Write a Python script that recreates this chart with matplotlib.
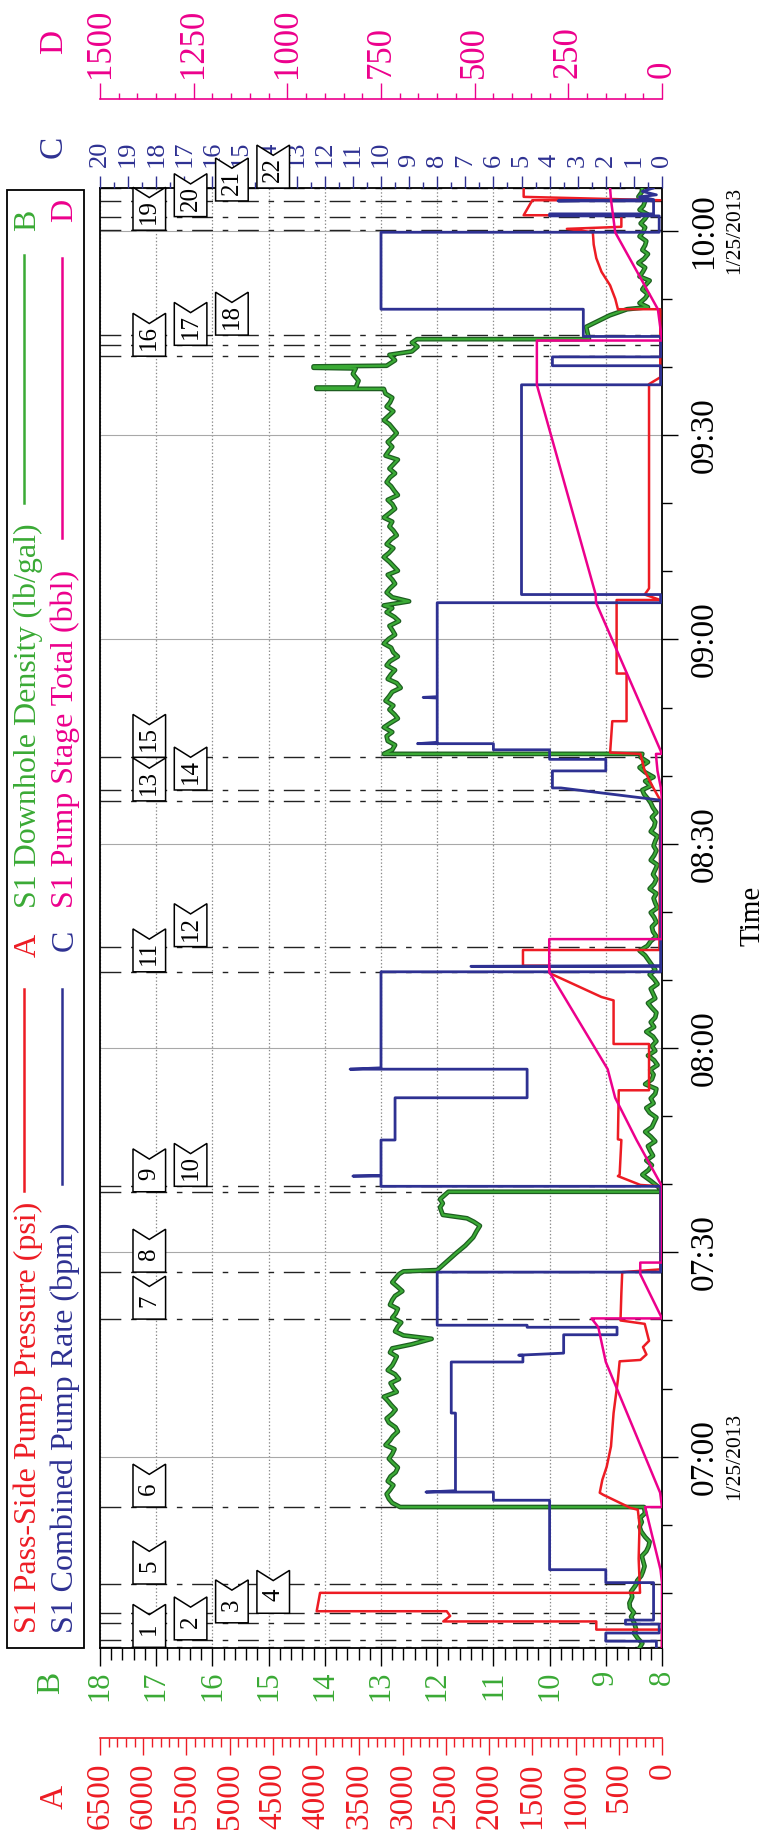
import numpy as np
import pandas as pd
import matplotlib
matplotlib.use("Agg")
import matplotlib.pyplot as plt
import matplotlib.dates as mdates
import matplotlib.ticker as mticker
import matplotlib.transforms as mtransforms
from matplotlib.patches import Polygon, Rectangle
from matplotlib.lines import Line2D

plt.rcParams['font.family'] = ['Liberation Serif', 'DejaVu Serif']
plt.rcParams['lines.scale_dashes'] = False

RED = '#ed1c24'
GREEN = '#3aaa35'
DKGREEN = '#1d5e20'
BLUE = '#2e3192'
PINK = '#ec008c'

T0 = pd.Timestamp('2013-01-25 07:00')

############################################################
# data: (minutes after 07:00, value)
############################################################

# A - S1 Pass-Side Pump Pressure (psi)
pressure = [(-28.1, 0), (-25.4, 0), (-25.4, 760), (-24.2, 760), (-24.2, 2530),
            (-23.4, 2450), (-22.7, 2490), (-22.7, 3994), (-20.0, 3955), (-20.0, 254),
            (-15.0, 270), (-10.0, 260), (-7.8, 280), (-7.5, 370), (-5.6, 680),
            (-5.3, 720), (-3.4, 690), (-1.5, 640), (1.5, 590), (6.4, 560),
            (11.3, 510), (14.0, 490), (14.2, 250), (15.0, 180), (16.1, 220),
            (17.0, 150), (19.5, 200), (20.0, 480), (24.0, 470), (27.1, 460),
            (27.5, 20), (39.7, 20), (39.9, 250), (41.2, 510), (41.4, 490),
            (46.5, 470), (46.6, 510), (53.8, 500), (53.8, 150), (60.6, 150),
            (60.6, 560), (67.0, 560), (67.5, 700), (71.0, 1300), (72.1, 1300),
            (72.1, 1608), (74.4, 1608), (74.4, 30), (96.4, 20), (98.2, 100),
            (100.7, 200), (103.2, 250), (103.4, 600), (108.0, 575), (108.0, 410),
            (115.0, 410), (115.0, 525), (125.8, 525), (125.8, 20), (126.6, 200),
            (127.5, 150), (157.5, 150), (158.5, 20), (168.5, 20), (168.5, 510),
            (170.0, 540), (172.0, 600), (174.0, 700), (176.0, 760), (178.0, 790),
            (179.8, 800), (180.3, 1100), (180.6, 470), (182.3, 470), (182.3, 1600),
            (184.5, 1500), (184.5, 20), (185.0, 1600), (186.6, 1600)]

# B - S1 Downhole Density (lb/gal)
density = [(-28.1, 8.4), (-27.4, 8.35), (-26.8, 8.42), (-25.9, 8.5), (-25.4, 8.46),
           (-24.5, 8.49), (-23.5, 8.55), (-22.9, 8.5), (-22.2, 8.57), (-21.5, 8.58),
           (-20.6, 8.53), (-19.8, 8.55), (-18.9, 8.47), (-18.2, 8.44), (-17.5, 8.37),
           (-16.9, 8.34), (-16.1, 8.31), (-15.5, 8.33), (-14.6, 8.36), (-13.9, 8.28),
           (-13.2, 8.24), (-12.5, 8.22), (-11.8, 8.3), (-11.0, 8.37), (-10.3, 8.4),
           (-9.6, 8.36), (-9.0, 8.39), (-8.3, 8.3), (-7.4, 8.32), (-7.4, 12.66),
           (-6.8, 12.8), (-6.2, 12.86), (-5.5, 12.9), (-4.9, 12.84), (-4.2, 12.78),
           (-3.6, 12.88), (-2.9, 12.83), (-2.3, 12.74), (-1.6, 12.7), (-0.9, 12.79),
           (-0.3, 12.86), (0.4, 12.8), (1.1, 12.76), (1.7, 12.92), (2.4, 12.84),
           (3.0, 12.79), (3.7, 12.7), (4.3, 12.74), (5.0, 12.86), (5.6, 12.9),
           (6.3, 12.8), (6.9, 12.74), (7.6, 12.82), (8.2, 12.88), (8.8, 12.95),
           (9.5, 12.72), (10.1, 12.78), (10.8, 12.83), (11.4, 12.68), (12.1, 12.75),
           (12.7, 12.88), (13.4, 12.8), (14.0, 12.76), (14.7, 12.72), (15.3, 12.84),
           (15.9, 12.8), (16.5, 12.45), (17.3, 12.1), (17.8, 12.6), (18.4, 12.75),
           (19.1, 12.7), (19.7, 12.64), (20.4, 12.8), (21.0, 12.74), (21.7, 12.7),
           (22.3, 12.84), (23.0, 12.8), (23.6, 12.75), (24.3, 12.62), (24.9, 12.7),
           (25.6, 12.8), (26.2, 12.74), (26.8, 12.68), (27.2, 12.6), (27.4, 12.0),
           (28.5, 11.85), (29.9, 11.66), (31.0, 11.5), (32.2, 11.36), (33.1, 11.3),
           (33.9, 11.24), (34.5, 11.35), (35.0, 11.47), (35.5, 11.9), (36.6, 11.95),
           (37.2, 11.9), (37.8, 11.95), (38.9, 11.8), (38.9, 8.0), (39.5, 8.05),
           (40.5, 8.2), (41.4, 8.35), (42.1, 8.24), (42.8, 8.18), (43.5, 8.28),
           (44.2, 8.16), (44.9, 8.21), (45.6, 8.25), (46.3, 8.12), (47.0, 8.2),
           (47.7, 8.3), (48.4, 8.18), (49.1, 8.14), (49.8, 8.1), (50.5, 8.22),
           (51.2, 8.28), (51.9, 8.15), (52.6, 8.2), (53.3, 8.12), (54.0, 8.1),
           (54.7, 8.3), (55.4, 8.18), (56.1, 8.15), (56.8, 8.21), (57.5, 8.08),
           (58.2, 8.14), (58.9, 8.25), (59.6, 8.12), (60.3, 8.18), (61.0, 8.1),
           (61.7, 8.16), (62.4, 8.28), (63.1, 8.14), (63.8, 8.2), (64.5, 8.12),
           (65.2, 8.1), (65.9, 8.18), (66.6, 8.25), (67.3, 8.12), (68.0, 8.16),
           (68.7, 8.2), (69.4, 8.08), (70.1, 8.14), (70.8, 8.22), (71.5, 8.12),
           (72.2, 8.18), (72.9, 8.24), (73.6, 8.3), (74.3, 8.4), (75.0, 8.26),
           (75.7, 8.2), (76.4, 8.1), (77.1, 8.16), (77.8, 8.18), (78.5, 8.1),
           (79.2, 8.14), (79.9, 8.2), (80.6, 8.08), (81.3, 8.12), (82.0, 8.15),
           (82.7, 8.1), (83.4, 8.22), (84.1, 8.14), (84.8, 8.1), (85.5, 8.16),
           (86.2, 8.12), (86.9, 8.08), (87.6, 8.2), (88.3, 8.14), (89.0, 8.1),
           (89.7, 8.15), (90.4, 8.12), (91.1, 8.08), (91.8, 8.2), (92.5, 8.14),
           (93.2, 8.12), (93.9, 8.18), (94.6, 8.1), (95.3, 8.16), (96.0, 8.2),
           (96.6, 8.25), (97.3, 8.32), (97.9, 8.35), (98.5, 8.2), (99.2, 8.3),
           (99.8, 8.15), (100.5, 8.3), (101.2, 8.4), (102.0, 8.25), (102.7, 8.38),
           (103.2, 8.35), (103.2, 12.95), (103.8, 12.8), (104.5, 12.75), (105.1, 12.88),
           (105.8, 12.9), (106.4, 12.8), (107.1, 12.95), (107.7, 12.84), (108.4, 12.7),
           (109.0, 12.76), (109.7, 12.85), (110.3, 12.78), (111.0, 12.92), (111.6, 12.86),
           (112.3, 12.8), (112.9, 12.65), (113.6, 12.72), (114.2, 12.88), (114.9, 12.82),
           (115.5, 12.75), (116.2, 12.9), (116.8, 12.84), (117.5, 12.7), (118.1, 12.78),
           (118.8, 12.82), (119.4, 12.95), (120.1, 12.86), (120.7, 12.75), (121.4, 12.8),
           (122.0, 12.85), (122.7, 12.68), (123.3, 12.76), (124.0, 12.9), (124.6, 12.8),
           (125.0, 12.95), (125.6, 12.5), (126.2, 12.8), (126.9, 12.9), (127.5, 12.84),
           (128.2, 12.75), (128.8, 12.8), (129.5, 12.88), (130.1, 12.7), (130.8, 12.78),
           (131.4, 12.85), (132.1, 12.95), (132.7, 12.86), (133.4, 12.78), (134.0, 12.9),
           (134.7, 12.82), (135.3, 12.72), (136.0, 12.78), (136.6, 12.85), (137.3, 12.8),
           (137.9, 12.95), (138.6, 12.84), (139.2, 12.75), (139.9, 12.8), (140.5, 12.88),
           (141.2, 12.7), (141.8, 12.76), (142.5, 12.82), (143.1, 12.9), (143.8, 12.84),
           (144.4, 12.75), (145.1, 12.85), (145.7, 12.78), (146.4, 12.7), (147.0, 12.92),
           (147.7, 12.86), (148.3, 12.8), (149.0, 12.88), (149.6, 12.8), (150.3, 12.72),
           (150.9, 12.78), (151.6, 12.85), (152.2, 12.95), (152.9, 12.86), (153.5, 12.78),
           (154.2, 12.9), (154.8, 12.84), (155.5, 12.8), (156.1, 12.92), (156.8, 12.95),
           (156.8, 14.15), (157.0, 14.15), (157.0, 13.45), (158.0, 13.4), (159.0, 13.5),
           (159.8, 13.45), (159.9, 14.2), (160.1, 14.2), (160.2, 12.9), (161.0, 12.75),
           (161.8, 12.85), (162.3, 12.45), (163.0, 12.35), (163.6, 12.45), (164.1, 12.36),
           (164.1, 9.3), (165.9, 9.35), (167.6, 8.93), (168.5, 8.62), (168.8, 8.25),
           (169.4, 8.4), (170.1, 8.3), (170.7, 8.25), (171.4, 8.35), (172.0, 8.3),
           (172.7, 8.22), (173.3, 8.4), (174.0, 8.34), (174.6, 8.3), (175.3, 8.42),
           (175.9, 8.32), (176.6, 8.25), (177.2, 8.35), (177.9, 8.3), (178.5, 8.28),
           (179.2, 8.4), (179.8, 8.34), (180.5, 8.3), (181.1, 8.38), (181.8, 8.3),
           (182.4, 8.25), (183.1, 8.4), (183.7, 8.33), (184.4, 8.3), (185.0, 8.42),
           (185.7, 8.36), (186.5, 8.35)]

# C - S1 Combined Pump Rate (bpm)
rate = [(-28.1, 0.2), (-27.1, 0.2), (-27.1, 2.0), (-25.9, 2.0), (-25.9, 0.1),
        (-24.6, 0.1), (-24.6, 1.3), (-24.0, 1.3), (-24.0, 0.3), (-18.5, 0.3),
        (-18.5, 2.0), (-16.6, 2.0), (-16.6, 4.0), (-6.4, 4.0), (-6.4, 6.0),
        (-5.2, 6.0), (-5.2, 8.4), (-5.0, 7.35), (6.4, 7.35), (6.4, 7.5),
        (13.9, 7.5), (13.9, 4.95), (14.9, 4.95), (14.9, 5.1), (15.2, 3.5),
        (17.9, 3.5), (17.9, 1.6), (19.0, 1.6), (19.0, 4.8), (19.3, 4.8),
        (19.3, 8.0), (27.1, 8.0), (27.1, 0.05), (39.7, 0.05), (39.7, 10.0),
        (41.2, 10.0), (41.2, 11.0), (41.3, 10.0), (46.5, 10.0), (46.5, 9.5),
        (52.7, 9.5), (52.7, 4.8), (56.9, 4.8), (56.9, 11.1), (57.1, 10.0),
        (71.2, 10.0), (71.2, 0.05), (72.0, 0.05), (72.0, 6.8), (72.1, 0.05),
        (96.4, 0.05), (98.2, 3.6), (98.2, 3.9), (100.7, 3.9), (100.7, 2.0),
        (102.4, 2.0), (102.4, 4.0), (103.8, 4.0), (103.8, 6.0), (104.7, 6.0),
        (104.7, 8.7), (104.9, 8.0), (111.4, 8.0), (111.5, 8.5), (111.6, 8.0),
        (125.4, 8.0), (125.4, 0.05), (126.6, 0.05), (126.6, 5.0), (157.4, 5.0),
        (157.4, 0.05), (160.2, 0.05), (160.2, 3.9), (161.5, 3.9), (161.5, 0.05),
        (164.5, 0.05), (164.5, 2.8), (168.5, 2.8), (168.5, 10.0), (179.8, 10.0),
        (179.8, 0.1), (182.2, 0.1), (182.2, 4.0), (182.5, 4.0), (182.5, 0.3),
        (184.4, 0.3), (184.4, 3.7), (184.6, 0.3), (185.0, 0.8), (185.3, 0.2),
        (185.8, 0.7), (186.3, 0.3), (186.6, 0.4)]

# D - S1 Pump Stage Total (bbl)
stage_total = [(-28.1, 0), (-18.5, 0), (-16.6, 4), (-7.4, 45), (-7.4, 0),
               (-5.3, 5), (13.9, 150), (19.0, 170), (20.3, 188), (20.3, 0),
               (26.8, 58), (28.5, 58), (28.5, 0), (39.7, 0), (46.5, 68),
               (52.7, 125), (56.9, 145), (71.2, 301), (76.0, 301), (76.0, 0),
               (96.4, 0), (98.2, 3), (100.7, 12), (102.4, 15), (103.2, 16),
               (103.2, 0), (125.4, 176), (126.6, 177), (157.4, 334), (163.9, 334),
               (163.9, 0), (168.5, 11), (179.8, 125), (182.0, 130), (184.5, 136),
               (186.6, 139)]

# event markers 1..22 (minutes after 07:00) and the flag row they sit in
event_min = [-28.0, -26.9, -24.4, -23.0, -18.7, -7.4, 20.2, 27.1, 38.9, 39.7, 71.2,
             74.9, 96.3, 97.9, 102.7, 161.6, 163.2, 164.7, 180.1, 182.1, 184.4, 186.3]
event_row = [1, 2, 3, 4, 1, 1, 1, 1, 1, 2, 1, 2, 1, 2, 1, 1, 2, 3, 1, 2, 3, 4]

t_start, t_end = -28.1, 186.3


def tnum(m):
    return mdates.date2num(T0.to_pydatetime()) + np.asarray(m, float) / 1440.0


def split(pts):
    a = np.array(pts, float)
    return tnum(a[:, 0]), a[:, 1]


W, H = 769, 1839
fig = plt.figure(figsize=(W / 100, H / 100), dpi=100)


def fx(px):
    return px / W


def fy(py):
    return 1 - py / H


L, R, TOP, BOT = 100, 662, 188, 1648
ax = fig.add_axes([fx(L), fy(BOT), (R - L) / W, (BOT - TOP) / H])
axA = ax.twiny()
axC = ax.twiny()
axD = ax.twiny()

ax.set_xlim(18, 8)
axA.set_xlim(6500, 0)
axC.set_xlim(20, 0)
axD.set_xlim(1500, 0)
ax.set_ylim(tnum(t_start), tnum(t_end))

for s in ax.spines.values():
    s.set_linewidth(1.3)

# B axis (bottom)
ax.xaxis.set_major_locator(mticker.MultipleLocator(1))
ax.xaxis.set_minor_locator(mticker.MultipleLocator(0.2))
ax.xaxis.set_major_formatter(mticker.FormatStrFormatter('%d'))
ax.tick_params(axis='x', which='major', direction='out', length=13, width=1,
               labelcolor=GREEN, labelsize=22, labelrotation=90, pad=3)
ax.tick_params(axis='x', which='minor', direction='out', length=8.5, width=1)

# time axis (right)
ax.yaxis.tick_right()
ax.yaxis.set_major_locator(mdates.MinuteLocator(byminute=[0, 30]))
ax.yaxis.set_minor_locator(mdates.MinuteLocator(byminute=range(0, 60, 10)))
ax.yaxis.set_major_formatter(mdates.DateFormatter('%H:%M'))
ax.tick_params(axis='y', which='major', direction='out', length=11.5, width=1,
               labelsize=24, labelrotation=90, pad=8)
ax.tick_params(axis='y', which='minor', direction='out', length=7, width=1)
plt.setp(ax.get_yticklabels(), va='center')

ax.grid(True, axis='x', which='major', color='#8a8a8a', lw=0.9, ls=(0, (1, 1.5)))
ax.grid(True, axis='y', which='major', color='#a8a8a8', lw=0.8, ls='-')
ax.set_axisbelow(True)

# A axis (bottom, offset)
axA.xaxis.set_ticks_position('bottom')
axA.xaxis.set_label_position('bottom')
for k in ['top', 'left', 'right']:
    axA.spines[k].set_visible(False)
axA.spines['bottom'].set_position(('outward', 64.8))
axA.spines['bottom'].set_color(RED)
axA.spines['bottom'].set_linewidth(1.2)
axA.xaxis.set_major_locator(mticker.MultipleLocator(500))
axA.xaxis.set_minor_locator(mticker.MultipleLocator(100))
axA.xaxis.set_major_formatter(mticker.FormatStrFormatter('%d'))
axA.tick_params(axis='x', which='major', direction='out', length=12, width=1,
                color=RED, labelcolor=RED, labelsize=24, labelrotation=90, pad=5.5)
axA.tick_params(axis='x', which='minor', direction='out', length=6.5, width=1, color=RED)

# C axis (top, on the frame)
for s in axC.spines.values():
    s.set_visible(False)
axC.xaxis.set_major_locator(mticker.MultipleLocator(1))
axC.xaxis.set_minor_locator(mticker.MultipleLocator(0.5))
axC.xaxis.set_major_formatter(mticker.FormatStrFormatter('%d'))
axC.tick_params(axis='x', which='major', direction='out', length=8.3, width=1,
                color=BLUE, labelcolor=BLUE, labelsize=19, labelrotation=90, pad=7)
axC.tick_params(axis='x', which='minor', direction='out', length=4.5, width=1, color=BLUE)

# D axis (top, offset)
for k in ['bottom', 'left', 'right']:
    axD.spines[k].set_visible(False)
axD.spines['top'].set_position(('outward', 64))
axD.spines['top'].set_color(PINK)
axD.spines['top'].set_linewidth(1.2)
axD.xaxis.set_major_locator(mticker.MultipleLocator(250))
axD.xaxis.set_minor_locator(mticker.MultipleLocator(50))
axD.xaxis.set_major_formatter(mticker.FormatStrFormatter('%d'))
axD.tick_params(axis='x', which='major', direction='out', length=11.5, width=1,
                color=PINK, labelcolor=PINK, labelsize=25, labelrotation=90, pad=4)
axD.tick_params(axis='x', which='minor', direction='out', length=4.3, width=1, color=PINK)

# event lines
for t in event_min:
    ax.axhline(tnum(t), color='#222222', lw=1.0, ls=(0, (15, 7, 4, 7)), zorder=1)

# series
tp, vp = split(pressure)
axA.plot(vp, tp, color=RED, lw=1.8, zorder=3)
td, vd = split(density)
ax.plot(vd, td, color=DKGREEN, lw=3.4, zorder=3, solid_joinstyle='round')
ax.plot(vd, td, color=GREEN, lw=1.6, zorder=4, solid_joinstyle='round')
tr, vr = split(rate)
axC.plot(vr, tr, color=BLUE, lw=2.0, zorder=3)
ts, vs = split(stage_total)
axD.plot(vs, ts, color=PINK, lw=1.8, zorder=3)

# event flags
trans = mtransforms.blended_transform_factory(ax.transAxes, ax.transData)
box_h, notch = 6.3, 1.5
for i, (t, r) in enumerate(zip(event_min, event_row)):
    x0 = 0.0587 + 0.0735 * (r - 1)
    x1 = x0 + 0.058
    xm = (x0 + x1) / 2
    poly = [(x0, tnum(t)), (x1, tnum(t)), (x1, tnum(t + box_h)),
            (xm, tnum(t + box_h - notch)), (x0, tnum(t + box_h))]
    axD.add_patch(Polygon(poly, closed=True, fc='white', ec='black', lw=1.1,
                          transform=trans, clip_on=False, zorder=10))
    axD.text(xm, tnum(t + 2.7), str(i + 1), transform=trans, rotation=90,
             ha='center', va='center', fontsize=18, zorder=11, clip_on=False)

# dates under 07:00 and 10:00
dtrans = mtransforms.blended_transform_factory(fig.transFigure, ax.transData)
for m in [0, 180]:
    ax.text(fx(735), tnum(m), '1/25/2013', transform=dtrans, rotation=90,
            ha='center', va='center', fontsize=15.5, clip_on=False)

fig.text(fx(752), fy(916), 'Time', rotation=90, ha='center', va='center', fontsize=21)

# axis letters
fig.text(fx(54), fy(1797), 'A', rotation=90, ha='center', va='center', fontsize=24, color=RED)
fig.text(fx(51), fy(1683), 'B', rotation=90, ha='center', va='center', fontsize=24, color=GREEN)
fig.text(fx(53), fy(147), 'C', rotation=90, ha='center', va='center', fontsize=24, color=BLUE)
fig.text(fx(54), fy(42), 'D', rotation=90, ha='center', va='center', fontsize=24, color=PINK)

# legend
fig.add_artist(Rectangle((fx(7), fy(1648)), 77 / W, (1648 - 190) / H, fill=False,
                         ec='black', lw=1.3, transform=fig.transFigure))
legend_rows = [
    (28, 1633, 'S1 Pass-Side Pump Pressure (psi)', RED, 24, (1191, 989), 945, 'A'),
    (28, 908, 'S1 Downhole Density (lb/gal)', GREEN, 24, (503, 255), 220, 'B'),
    (65, 1633, 'S1 Combined Pump Rate (bpm)', BLUE, 62, (1184, 989), 940, 'C'),
    (65, 908, 'S1 Pump Stage Total (bbl)', PINK, 62, (538, 258), 210, 'D'),
]
for x, y0, label, c, lx, (ly0, ly1), ky, key in legend_rows:
    fig.text(fx(x), fy(y0), label, rotation=90, rotation_mode='anchor',
             ha='left', va='center', fontsize=23, color=c)
    fig.add_artist(Line2D([fx(lx), fx(lx)], [fy(ly0), fy(ly1)], color=c, lw=1.8,
                          transform=fig.transFigure))
    fig.text(fx(x), fy(ky), key, rotation=90, ha='center', va='center',
             fontsize=23, color=c)

fig.savefig('out.png', dpi=100)
